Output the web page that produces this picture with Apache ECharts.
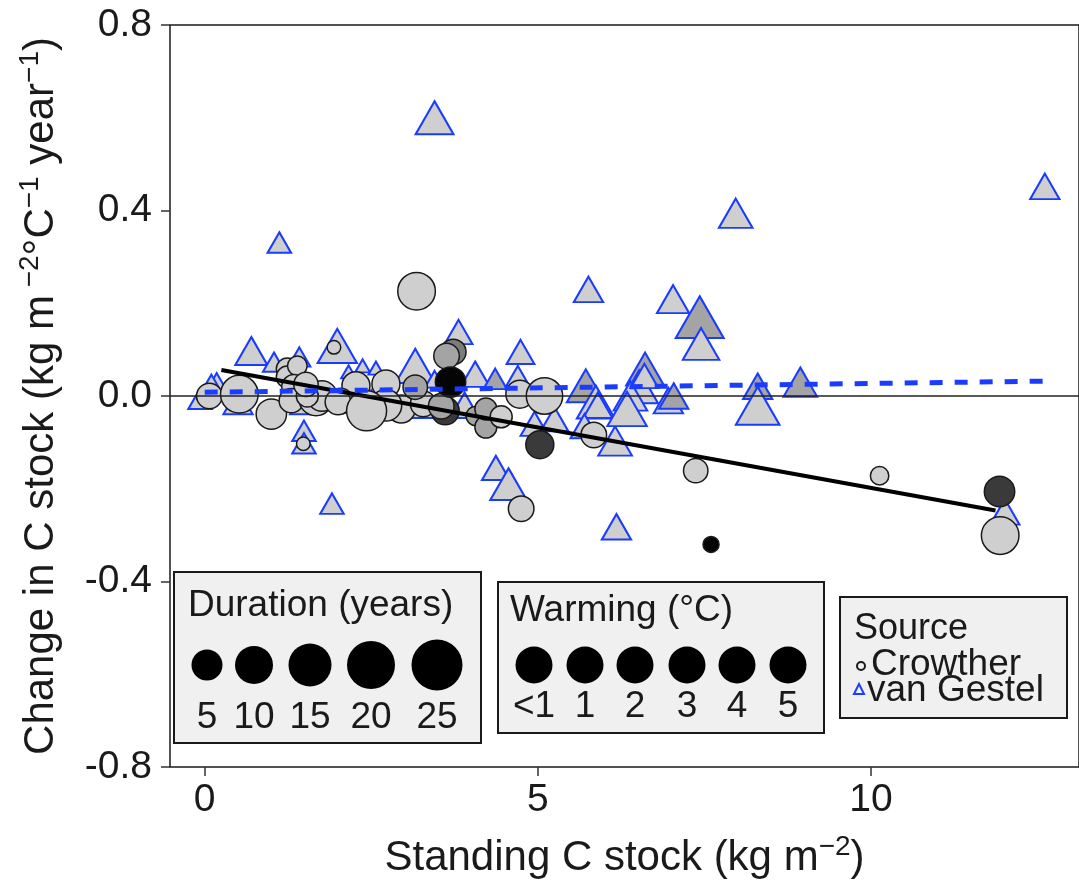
<!DOCTYPE html>
<html>
<head>
<meta charset="utf-8">
<script src="https://cdn.jsdelivr.net/npm/echarts@6/dist/echarts.min.js"></script>
<style>
  html, body { margin: 0; padding: 0; background: #fff; }
  #chart { width: 1079px; height: 884px; }
</style>
</head>
<body>
<div id="chart"></div>
<script>
// [standing C stock, change in C stock, duration (years), warming level index]
const crowther = [
  [0.07, 0.000, 13, 1], [0.52, 0.004, 23, 1], [1.00, -0.039, 17, 1],
  [1.24, 0.058, 10, 1], [1.24, 0.041, 10, 1], [1.39, 0.065, 8, 1],
  [1.34, 0.020, 12, 1], [1.30, -0.010, 12, 1], [1.67, -0.006, 20, 1],
  [1.76, 0.000, 17, 1], [1.54, 0.000, 10, 1], [1.52, 0.025, 12, 1],
  [2.27, 0.022, 15, 1], [2.72, 0.026, 15, 1], [2.04, -0.011, 13, 1],
  [2.00, -0.013, 13, 1], [2.95, -0.028, 15, 1], [2.72, -0.020, 18, 1],
  [2.43, -0.032, 25, 1], [3.28, -0.017, 13, 1],
  [1.94, 0.105, 3, 1], [1.48, -0.103, 3, 1], [3.18, 0.226, 23, 1],
  [3.16, 0.019, 12, 2], [3.73, 0.095, 13, 3], [3.63, 0.086, 13, 2],
  [3.61, -0.032, 15, 4], [3.55, -0.022, 13, 2], [3.69, 0.030, 17, 5],
  [4.07, -0.043, 8, 2], [4.22, -0.067, 10, 2], [4.22, -0.028, 10, 2],
  [4.45, -0.045, 10, 1], [4.73, 0.004, 15, 1], [5.10, 0.000, 22, 1],
  [4.75, -0.243, 13, 1], [5.03, -0.105, 15, 4], [5.84, -0.084, 13, 1],
  [7.37, -0.161, 12, 1], [7.60, -0.320, 5, 5], [10.13, -0.172, 7, 1],
  [11.93, -0.206, 17, 4], [11.94, -0.301, 23, 1]
]

const vanGestel = [
  [0.50, -0.012, 12, 1], [1.50, -0.012, 12, 1], [2.50, -0.015, 12, 1],
  [3.30, -0.020, 12, 1], [3.90, -0.020, 12, 1], [-0.07, -0.006, 8, 1],
  [0.18, 0.022, 12, 1], [0.10, 0.020, 11, 1], [0.70, 0.097, 14, 1],
  [1.04, 0.073, 7, 1], [1.42, 0.084, 7, 1], [1.12, 0.331, 8, 1],
  [1.49, -0.075, 8, 1], [1.49, -0.102, 8, 1], [1.99, 0.108, 19, 1],
  [2.16, 0.052, 2, 1], [2.37, 0.065, 2, 1], [2.57, 0.060, 2, 1],
  [1.91, -0.232, 8, 1], [3.16, 0.000, 19, 1], [3.16, 0.065, 19, 1],
  [3.45, 0.600, 18, 1], [3.45, 0.036, 5, 1], [3.81, 0.138, 11, 1],
  [4.06, 0.047, 12, 1], [4.36, 0.037, 8, 2], [4.70, 0.043, 8, 1],
  [4.74, 0.095, 11, 1], [4.37, -0.155, 11, 1], [4.56, -0.190, 17, 1],
  [4.95, -0.060, 11, 1], [5.25, -0.050, 11, 1], [5.72, 0.022, 18, 2],
  [5.76, 0.230, 12, 1], [5.87, -0.013, 18, 1], [5.90, -0.020, 12, 1],
  [5.70, -0.065, 11, 1], [6.16, -0.097, 15, 1], [6.18, -0.282, 12, 1],
  [6.61, 0.058, 18, 2], [6.52, 0.020, 18, 1], [6.39, 0.000, 15, 1],
  [6.34, -0.028, 19, 1], [6.60, 0.043, 11, 1], [6.96, -0.010, 12, 1],
  [7.04, 0.000, 12, 2], [7.03, 0.209, 14, 1], [7.43, 0.170, 25, 2],
  [7.45, 0.112, 17, 1], [7.97, 0.394, 15, 1], [8.30, 0.021, 12, 2],
  [8.30, -0.021, 22, 1], [8.94, 0.030, 15, 2], [12.01, -0.250, 12, 1],
  [12.61, 0.452, 12, 1]
]

// fitted lines (end points)
const crowtherFit = [[0.25, 0.056], [11.87, -0.247]]
const vanGestelFit = [[0.00, 0.008], [12.58, 0.032]]

const xTicks = [0, 5, 10]
const durationLevels = [5, 10, 15, 20, 25]
const warmingLevels = ['<1', '1', '2', '3', '4', '5']
const sourceNames = ['Crowther', 'van Gestel']

const FONT = 'Liberation Sans, Arial, Helvetica, sans-serif'
const fills = ['#d6d6d6', '#cfcfcf', '#a4a4a4', '#7c7c7c', '#3a3a3a', '#050505']
const circleSize = d => 10 + 1.2 * d
const triWidth = d => 1.2 * (10 + 1.2 * d)

const chart = echarts.init(document.getElementById('chart'))

// legend boxes drawn on top of the panel
const graphic = []
const box = (x, y, w, h) => graphic.push({
  type: 'rect', z: 100, shape: { x, y, width: w, height: h },
  style: { fill: '#f0f0f0', stroke: '#1a1a1a', lineWidth: 2 }
})
const text = (t, x, y, size, align) => graphic.push({
  type: 'text', z: 101, x, y,
  style: { text: t, font: size + 'px ' + FONT, fill: '#1a1a1a',
    textAlign: align || 'left', align: align || 'left',
    textVerticalAlign: 'middle', verticalAlign: 'middle' }
})

box(174, 572, 307, 171)
text('Duration (years)', 188, 606, 37)
const durX = [207, 254, 310, 371, 437]
const durR = [15.5, 19, 21.5, 24, 25.5]
durationLevels.forEach((d, i) => {
  graphic.push({ type: 'circle', z: 101, shape: { cx: durX[i], cy: 665, r: durR[i] }, style: { fill: '#000' } })
  text(String(d), durX[i], 718, 37, 'center')
})

box(498, 582, 326, 151)
text('Warming (°C)', 510, 611, 37)
const warmX = [534, 585, 635, 687, 737, 788]
warmingLevels.forEach((w, i) => {
  graphic.push({ type: 'circle', z: 101, shape: { cx: warmX[i], cy: 665, r: 18.5 }, style: { fill: '#000' } })
  text(w, warmX[i], 707, 37, 'center')
})

box(840, 597, 227, 121)
text('Source', 854, 629, 36)
graphic.push({ type: 'circle', z: 101, shape: { cx: 861, cy: 666, r: 4 }, style: { fill: 'none', stroke: '#1a1a1a', lineWidth: 2 } })
graphic.push({ type: 'polygon', z: 101, shape: { points: [[859, 684], [854, 694], [864, 694]] }, style: { fill: 'none', stroke: '#1e3cff', lineWidth: 2 } })
text(sourceNames[0], 871, 665, 37)
text(sourceNames[1], 867, 691, 37)

const option = {
  animation: false,
  backgroundColor: '#fff',
  textStyle: { fontFamily: FONT },
  grid: {
    left: 170, right: -3, top: 25, bottom: 116,
    show: true, borderColor: '#1a1a1a', borderWidth: 1.5
  },
  xAxis: {
    type: 'value', min: -0.521, max: 13.123,
    name: '{a|Standing C stock (kg m}{s|−2}{a|)}',
    nameLocation: 'middle', nameGap: 66,
    nameTextStyle: {
      rich: {
        a: { fontSize: 42, fontFamily: FONT, color: '#1a1a1a', lineHeight: 50 },
        s: { fontSize: 28, fontFamily: FONT, color: '#1a1a1a', verticalAlign: 'top', lineHeight: 30 }
      }
    },
    axisLine: { show: false, onZero: false },
    splitLine: { show: false },
    axisTick: { show: true, length: 9, customValues: xTicks, lineStyle: { color: '#333', width: 1.5 } },
    axisLabel: { customValues: xTicks, fontSize: 39, color: '#1a1a1a', margin: 14, fontFamily: FONT }
  },
  yAxis: {
    type: 'value', min: -0.8, max: 0.8, interval: 0.4,
    name: '{a|Change in C stock (kg m}{s| −2}{a|°C}{s|−1}{a| year}{s|−1}{a|)}',
    nameLocation: 'middle', nameGap: 104, nameRotate: 90,
    nameTextStyle: {
      rich: {
        a: { fontSize: 42, fontFamily: FONT, color: '#1a1a1a', lineHeight: 50 },
        s: { fontSize: 28, fontFamily: FONT, color: '#1a1a1a', verticalAlign: 'top', lineHeight: 30 }
      }
    },
    axisLine: { show: false, onZero: false },
    splitLine: { show: false },
    axisTick: { show: true, length: 9, lineStyle: { color: '#333', width: 1.5 } },
    axisLabel: { fontSize: 39, color: '#1a1a1a', margin: 18, fontFamily: FONT, formatter: v => v.toFixed(1) }
  },
  graphic,
  series: [
    {
      type: 'line', data: [], silent: true,
      markLine: {
        silent: true, symbol: ['none', 'none'], label: { show: false },
        lineStyle: { color: '#222', width: 1.5, type: 'solid' },
        data: [{ yAxis: 0 }]
      }
    },
    {
      name: 'Crowther fit', type: 'line', data: crowtherFit, symbol: 'none',
      lineStyle: { color: '#000', width: 4 }
    },
    {
      name: 'van Gestel', type: 'scatter', data: vanGestel, symbol: 'triangle',
      symbolSize: v => { const w = triWidth(v[2]); return [w, w * 0.87] },
      itemStyle: { color: p => fills[p.data[3]], borderColor: '#1a3cff', borderWidth: 2, opacity: 1 }
    },
    {
      name: 'van Gestel fit', type: 'line', data: vanGestelFit, symbol: 'none',
      lineStyle: { color: '#1a3cff', width: 5, type: [13, 12] }
    },
    {
      name: 'Crowther', type: 'scatter', data: crowther, symbol: 'circle',
      symbolSize: v => circleSize(v[2]),
      itemStyle: { color: p => fills[p.data[3]], borderColor: '#1a1a1a', borderWidth: 1.5, opacity: 1 }
    }
  ]
}

chart.setOption(option)
</script>
</body>
</html>
